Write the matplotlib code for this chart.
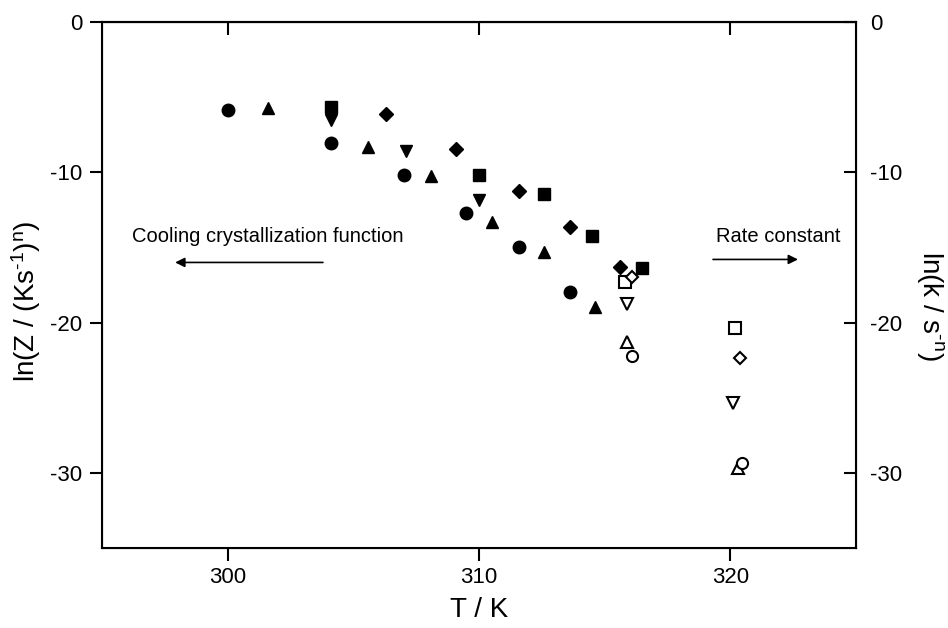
import matplotlib.pyplot as plt

plt.rcParams['font.family'] = ['Liberation Sans', 'DejaVu Sans']
plt.rcParams['mathtext.fontset'] = 'custom'
plt.rcParams['mathtext.rm'] = 'Liberation Sans'
plt.rcParams['mathtext.it'] = 'Liberation Sans:italic'
plt.rcParams['axes.unicode_minus'] = False

# cooling crystallization function, left axis (filled symbols)
T_circ = [300.0, 304.1, 307.0, 309.5, 311.6, 313.6]
Z_circ = [-5.85, -8.05, -10.2, -12.7, -15.0, -17.95]
T_tri = [301.6, 305.6, 308.1, 310.5, 312.6, 314.6]
Z_tri = [-5.7, -8.3, -10.25, -13.3, -15.3, -18.95]
T_dtri = [304.1, 307.1, 310.0]
Z_dtri = [-6.5, -8.6, -11.85]
T_sq = [304.1, 310.0, 312.6, 314.5, 316.5]
Z_sq = [-5.65, -10.2, -11.45, -14.25, -16.35]
T_dia = [306.3, 309.1, 311.6, 313.6, 315.6]
Z_dia = [-6.1, -8.45, -11.25, -13.65, -16.3]

# rate constant, right axis (open symbols)
Tk_sq = [315.8, 320.2]
k_sq = [-17.3, -20.35]
Tk_dia = [316.1, 320.4]
k_dia = [-16.95, -22.35]
Tk_dtri = [315.9, 320.1]
k_dtri = [-18.75, -25.35]
Tk_tri = [315.9, 320.3]
k_tri = [-21.3, -29.65]
Tk_circ = [316.1, 320.45]
k_circ = [-22.2, -29.35]

fig = plt.figure(figsize=(9.48, 6.28), dpi=100)
ax = fig.add_axes([0.1076, 0.1274, 0.7954, 0.8376])

ms = 9
ax.plot(T_circ, Z_circ, 'o', color='black', ms=ms)
ax.plot(T_tri, Z_tri, '^', color='black', ms=ms)
ax.plot(T_dtri, Z_dtri, 'v', color='black', ms=ms)
ax.plot(T_sq, Z_sq, 's', color='black', ms=ms - 1)
ax.plot(T_dia, Z_dia, 'D', color='black', ms=ms - 2)

ax.set_xlim(295, 325)
ax.set_ylim(-35, 0)
ax.set_xticks([300, 310, 320])
ax.set_yticks([0, -10, -20, -30])
ax.tick_params(direction='out', length=9, width=1.5, labelsize=16, pad=5)
ax.set_xlabel('T / K', fontsize=20, labelpad=6)
ax.set_ylabel(r'ln(Z / (Ks$^{\text{-}1}$)$^{\mathrm{n}}$)', fontsize=20)
ax.yaxis.set_label_coords(-0.078, 0.47)
for s in ax.spines.values():
    s.set_linewidth(1.5)

top = ax.secondary_xaxis('top')
top.set_xticks([300, 310, 320])
top.tick_params(direction='in', length=9, width=1.5, labeltop=False)
top.spines['top'].set_linewidth(1.5)

ax2 = ax.twinx()
ow = 1.5
ax2.plot(Tk_sq, k_sq, 's', mfc='white', mec='black', mew=ow, ms=8)
ax2.plot(Tk_dia, k_dia, 'D', mfc='white', mec='black', mew=ow, ms=6.5)
ax2.plot(Tk_dtri, k_dtri, 'v', mfc='white', mec='black', mew=ow, ms=9)
ax2.plot(Tk_tri, k_tri, '^', mfc='white', mec='black', mew=ow, ms=9)
ax2.plot(Tk_circ, k_circ, 'o', mfc='white', mec='black', mew=ow, ms=8)
ax2.set_ylim(-35, 0)
ax2.set_yticks([0, -10, -20, -30])
ax2.tick_params(direction='in', length=9, width=1.5, labelsize=16, pad=10)
ax2.set_ylabel(r'ln(k / s$^{\text{-n}}$)', fontsize=20, rotation=270)
ax2.yaxis.set_label_coords(1.119, 0.46)

ax.text(301.6, -14.3, 'Cooling crystallization function', fontsize=14.5,
        ha='center', va='center')
ax.annotate('', xy=(297.8, -16.0), xytext=(303.9, -16.0),
            arrowprops=dict(arrowstyle='-|>', color='black', lw=1.2,
                            mutation_scale=14))
ax.text(321.9, -14.3, 'Rate constant', fontsize=14.5, ha='center', va='center')
ax.annotate('', xy=(322.8, -15.8), xytext=(319.2, -15.8),
            arrowprops=dict(arrowstyle='-|>', color='black', lw=1.2,
                            mutation_scale=14))

fig.savefig('out.png', dpi=100)
